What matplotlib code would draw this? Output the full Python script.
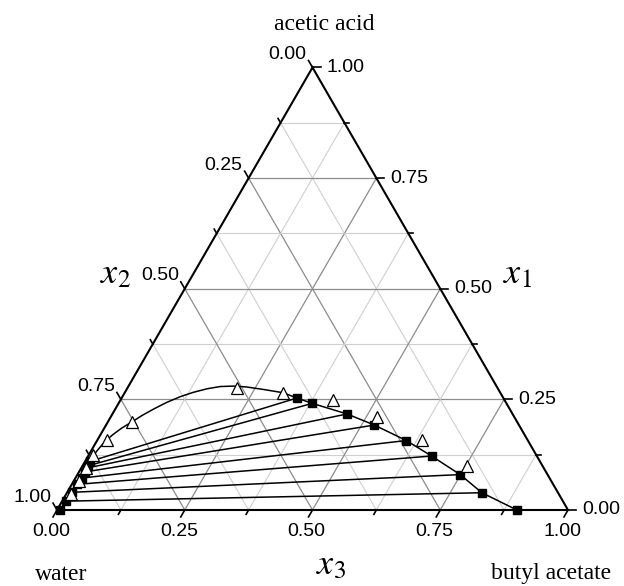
#!/usr/bin/env python3
"""Ternary LLE diagram: water / acetic acid / butyl acetate."""

import numpy as np
import matplotlib.pyplot as plt

plt.rcParams.update({
    "mathtext.fontset": "stix",
})

# tie-line end points (x1 = acetic acid, x3 = butyl acetate)
raff_x1 = [0.110, 0.100, 0.095, 0.086, 0.072, 0.058, 0.040, 0.020, 0.000]
raff_x3 = [0.010, 0.011, 0.012, 0.012, 0.012, 0.011, 0.010, 0.008, 0.006]
ext_x1 = [0.253, 0.241, 0.217, 0.192, 0.157, 0.122, 0.080, 0.039, 0.000]
ext_x3 = [0.343, 0.379, 0.459, 0.525, 0.605, 0.672, 0.749, 0.812, 0.900]

# binodal points (open triangles)
tri_x1 = [0.036, 0.066, 0.095, 0.124, 0.158, 0.199, 0.275, 0.265, 0.249, 0.211, 0.158, 0.099]
tri_x3 = [0.009, 0.010, 0.009, 0.008, 0.018, 0.047, 0.214, 0.310, 0.415, 0.520, 0.636, 0.753]

# binodal curve
curve_x1 = [0.000, 0.036, 0.066, 0.095, 0.118, 0.132, 0.145, 0.158, 0.170, 0.185,
            0.199, 0.214, 0.229, 0.243, 0.256, 0.266, 0.274, 0.279, 0.280, 0.278,
            0.272, 0.265, 0.253, 0.241, 0.217, 0.192, 0.157, 0.122, 0.080, 0.039,
            0.000]
curve_x3 = [0.006, 0.009, 0.010, 0.010, 0.010, 0.011, 0.014, 0.018, 0.024, 0.034,
            0.047, 0.060, 0.076, 0.093, 0.113, 0.134, 0.157, 0.180, 0.205, 0.232,
            0.270, 0.310, 0.343, 0.379, 0.459, 0.525, 0.605, 0.672, 0.749, 0.812,
            0.900]

ticks = [0.0, 0.125, 0.25, 0.375, 0.5, 0.625, 0.75, 0.875, 1.0]
major = [0.0, 0.25, 0.5, 0.75, 1.0]

S3 = np.sqrt(3) / 2
PX = 1 / 511.0  # one pixel in data units


def tern(x1, x3):
    x1 = np.asarray(x1, float)
    x3 = np.asarray(x3, float)
    return x3 + x1 / 2, x1 * S3


fig = plt.figure(figsize=(6.24, 5.86), dpi=100)
ax = fig.add_axes([0, 0, 1, 1])
ax.set_xlim(-57 / 511, 567 / 511)
ax.set_ylim(-76 / 511, 510 / 511)
ax.axis("off")

# grid
for v in ticks[1:-1]:
    col = "#8c8c8c" if v in major else "#cfcfcf"
    lw = 0.9 if v in major else 0.8
    for p, q in [((v, 0), (v, 1 - v)),          # const acetic acid
                 ((0, v), (1 - v, v)),          # const butyl acetate
                 ((0, 1 - v), (1 - v, 0))]:     # const water
        X, Y = tern([p[0], q[0]], [p[1], q[1]])
        ax.plot(X, Y, color=col, lw=lw, zorder=1)

# frame
X, Y = tern([0, 0, 1, 0], [0, 1, 0, 0])
ax.plot(X, Y, color="black", lw=1.5, zorder=4, solid_joinstyle="miter")

# ticks + labels
tfont = dict(family="Liberation Sans", fontsize=14)
for v in ticks:
    L = (8 if v in major else 5) * PX
    # bottom: x3
    x0, y0 = tern(0, v)
    dx, dy = -0.5 * L, -S3 * L
    ax.plot([x0, x0 + dx], [y0, y0 + dy], color="black", lw=1.2, zorder=4)
    if v in major:
        ax.text(x0 + dx - 2 * PX, y0 + dy - 15 * PX, f"{v:.2f}",
                ha="center", va="center", **tfont)
    # right: x1
    x0, y0 = tern(v, 1 - v)
    ax.plot([x0, x0 + L], [y0, y0], color="black", lw=1.2, zorder=4)
    if v in major:
        ax.text(x0 + L + 6 * PX, y0, f"{v:.2f}", ha="left", va="center", **tfont)
    # left: x2
    x0, y0 = tern(1 - v, 0)
    dx, dy = -0.5 * L, S3 * L
    ax.plot([x0, x0 + dx], [y0, y0 + dy], color="black", lw=1.2, zorder=4)
    if v in major:
        ax.text(x0 + dx - 2 * PX, y0 + dy + 6 * PX, f"{v:.2f}",
                ha="right", va="center", **tfont)

# tie lines
for a1, b1, a2, b2 in zip(raff_x1, raff_x3, ext_x1, ext_x3):
    X, Y = tern([a1, a2], [b1, b2])
    ax.plot(X, Y, color="black", lw=1.1, zorder=2)

# binodal curve
X, Y = tern(curve_x1, curve_x3)
ax.plot(X, Y, color="black", lw=1.1, zorder=2)

# markers
X, Y = tern(raff_x1 + ext_x1, raff_x3 + ext_x3)
ax.plot(X, Y, ls="none", marker="s", ms=6, color="black", zorder=5)
X, Y = tern(tri_x1, tri_x3)
ax.plot(X, Y, ls="none", marker="^", ms=8.5, mfc="white", mec="black",
        mew=0.9, zorder=6)


def at(px, py):
    return (px - 57) / 511, (510 - py) / 511


sfont = dict(family="Liberation Serif", fontsize=17)
ax.text(*at(324, 24), "acetic acid", ha="center", va="center", **sfont)
ax.text(*at(61, 574), "water", ha="center", va="center", **sfont)
ax.text(*at(551, 574), "butyl acetate", ha="center", va="center", **sfont)

vfont = dict(fontsize=26, ha="left", va="baseline")
ax.text(*at(100, 283), r"$x_{\mathit{2}}$", **vfont)
ax.text(*at(503, 283), r"$x_{\mathit{1}}$", **vfont)
ax.text(*at(316, 574), r"$x_{\mathit{3}}$", **vfont)

fig.savefig("out.png", dpi=100)
